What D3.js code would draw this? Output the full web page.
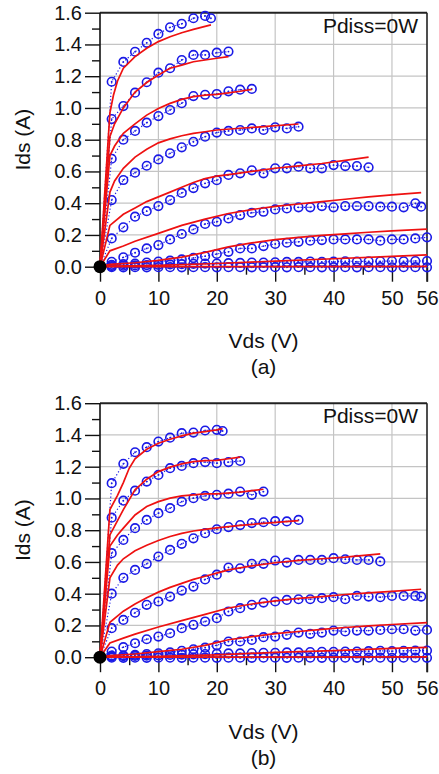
<!DOCTYPE html>
<html><head><meta charset="utf-8">
<script src="https://cdn.jsdelivr.net/npm/d3@7/dist/d3.min.js"></script>
<style>body{margin:0;background:#fff}svg{display:block}text{font-family:"Liberation Sans",Arial,Helvetica,sans-serif;fill:#111}</style>
</head><body>
<svg id="c" width="439" height="774"></svg>
<script>
// ---------- DATA ----------
const xTicks = [0,10,20,30,40,50,56];
const xMinor = [5,15,25,35,45];
const yTicks = [0,0.2,0.4,0.6,0.8,1.0,1.2,1.4,1.6];
const yMinor = [0.1,0.3,0.5,0.7,0.9,1.1,1.3,1.5];
const gridX = [10,20,30,40,50];
const gridY = [0.2,0.4,0.6,0.8,1.0,1.2,1.4];
const panelLabels = ["(a)","(b)"];
const annotation = "Pdiss=0W";

// panel (a) measured (blue circles)
const a_m1=[[0,0],[2,1.165],[4,1.29],[6,1.354],[8,1.41],[10,1.466],[12,1.508],[14,1.53],[16,1.565],[18,1.58],[19,1.565]];
const a_m2=[[0,0],[2,0.93],[4,1.012],[6,1.096],[8,1.162],[10,1.222],[12,1.25],[14,1.302],[16,1.334],[18,1.334],[20,1.348],[22,1.355]];
const a_m3=[[0,0],[2,0.68],[4,0.80],[6,0.855],[8,0.907],[10,0.949],[12,0.987],[14,1.03],[16,1.075],[18,1.083],[20,1.088],[22,1.105],[24,1.115],[26,1.12]];
const a_m4=[[0,0],[2,0.42],[4,0.546],[6,0.592],[8,0.636],[10,0.676],[12,0.714],[14,0.752],[16,0.787],[18,0.819],[20,0.845],[22,0.855],[24,0.861],[26,0.871],[28,0.861],[30,0.878],[32,0.871],[34,0.882]];
const a_m5=[[0,0],[2,0.178],[4,0.248],[6,0.315],[8,0.35],[10,0.382],[12,0.42],[14,0.465],[16,0.495],[18,0.525],[20,0.545],[22,0.578],[24,0.588],[26,0.607],[28,0.588],[30,0.62],[32,0.62],[34,0.63],[36,0.62],[38,0.62],[40,0.64],[42,0.634],[44,0.634],[46,0.626]];
const a_m6=[[0,0],[2,0.031],[4,0.059],[6,0.088],[8,0.115],[10,0.136],[12,0.172],[14,0.206],[16,0.235],[18,0.269],[20,0.283],[22,0.304],[24,0.325],[26,0.34],[28,0.346],[30,0.361],[32,0.367],[34,0.374],[36,0.374],[38,0.382],[40,0.374],[42,0.382],[44,0.382],[46,0.382],[48,0.378],[50,0.378],[52,0.374],[54,0.399],[55,0.378]];
const a_m7=[[0,0],[2,0.012],[4,0.016],[6,0.02],[8,0.026],[10,0.032],[12,0.038],[14,0.046],[16,0.055],[18,0.066],[20,0.08],[22,0.094],[24,0.115],[26,0.115],[28,0.13],[30,0.143],[32,0.151],[34,0.157],[36,0.164],[38,0.168],[40,0.172],[42,0.172],[44,0.172],[46,0.172],[48,0.164],[50,0.172],[52,0.172],[54,0.178],[56,0.185]];
const a_m8=[[0,0],[2,0.004],[4,0.006],[6,0.008],[8,0.01],[10,0.012],[12,0.014],[14,0.016],[16,0.018],[18,0.02],[20,0.02],[22,0.022],[24,0.024],[26,0.026],[28,0.026],[30,0.028],[32,0.03],[34,0.03],[36,0.032],[38,0.03],[40,0.032],[42,0.034],[44,0.032],[46,0.034],[48,0.034],[50,0.036],[52,0.034],[54,0.036],[56,0.036]];
const a_m9=[[0,0],[2,-0.003],[4,-0.004],[6,-0.003],[8,-0.004],[10,-0.003],[12,-0.003],[14,-0.004],[16,-0.003],[18,-0.003],[20,-0.004],[22,-0.003],[24,-0.003],[26,-0.004],[28,-0.003],[30,-0.003],[32,-0.004],[34,-0.003],[36,-0.003],[38,-0.004],[40,-0.003],[42,-0.003],[44,-0.004],[46,-0.003],[48,-0.003],[50,-0.004],[52,-0.003],[54,-0.003],[56,-0.004]];

// panel (a) model (red lines)
const a_s1=[[0,0],[1.7,0.97],[2.3,1.08],[3,1.17],[4,1.25],[6,1.323],[8,1.376],[10,1.418],[12,1.449],[14,1.474],[16,1.495],[19,1.523]];
const a_s2=[[0,0],[1.7,0.82],[2.5,0.90],[4,1.0],[6,1.10],[8,1.16],[10,1.207],[12,1.25],[14,1.27],[16,1.291],[18,1.302],[20,1.313],[22,1.323]];
const a_s3=[[0,0],[1.7,0.70],[2.5,0.76],[4,0.84],[6,0.90],[8,0.955],[10,0.997],[12,1.029],[14,1.054],[16,1.071],[18,1.081],[20,1.085],[22,1.095],[24,1.105],[26,1.117]];
const a_s4=[[0,0],[1.7,0.47],[2.5,0.54],[4,0.62],[6,0.69],[8,0.74],[10,0.78],[12,0.805],[14,0.825],[16,0.84],[18,0.85],[20,0.861],[24,0.872],[28,0.882],[34,0.899]];
const a_s5=[[0,0],[1.7,0.26],[4,0.33],[6,0.37],[8,0.41],[10,0.44],[12,0.47],[14,0.50],[16,0.53],[18,0.555],[20,0.57],[22,0.58],[26,0.60],[30,0.62],[34,0.635],[38,0.65],[42,0.67],[46,0.69]];
const a_s6=[[0,0],[1.7,0.10],[4,0.13],[6,0.16],[10,0.21],[14,0.26],[18,0.30],[22,0.335],[26,0.36],[30,0.38],[34,0.395],[38,0.41],[42,0.425],[46,0.44],[50,0.452],[55,0.466]];
const a_s7=[[0,0],[1.7,0.015],[6,0.025],[10,0.04],[14,0.06],[18,0.09],[22,0.125],[26,0.15],[30,0.17],[34,0.185],[38,0.197],[42,0.207],[46,0.217],[50,0.226],[56,0.237]];
const a_s8=[[0,0],[2,0.003],[10,0.008],[20,0.02],[30,0.035],[40,0.05],[50,0.065],[56,0.075]];
const a_s9=[[0,0],[56,0.002]];

// panel (b) measured
const b_m1=[[0,0],[2,1.096],[4,1.218],[6,1.291],[8,1.323],[10,1.358],[12,1.383],[14,1.411],[16,1.415],[18,1.428],[20,1.432],[21,1.425]];
const b_m2=[[0,0],[2,0.879],[4,0.986],[6,1.049],[8,1.106],[10,1.148],[12,1.191],[14,1.205],[16,1.222],[18,1.229],[20,1.222],[22,1.229],[24,1.236]];
const b_m3=[[0,0],[2,0.655],[4,0.739],[6,0.813],[8,0.865],[10,0.907],[12,0.939],[14,0.98],[16,1.002],[18,1.016],[20,1.023],[22,1.03],[24,1.043],[26,1.023],[28,1.043]];
const b_m4=[[0,0],[2,0.40],[4,0.50],[6,0.55],[8,0.588],[10,0.634],[12,0.676],[14,0.714],[16,0.749],[18,0.781],[20,0.806],[22,0.82],[24,0.832],[26,0.845],[28,0.85],[30,0.857],[32,0.855],[34,0.865]];
const b_m5=[[0,0],[2,0.183],[4,0.235],[6,0.28],[8,0.33],[10,0.351],[12,0.382],[14,0.42],[16,0.445],[18,0.49],[20,0.52],[22,0.565],[24,0.56],[26,0.588],[28,0.588],[30,0.609],[32,0.596],[34,0.613],[36,0.613],[38,0.613],[40,0.624],[42,0.617],[44,0.613],[46,0.613],[48,0.603]];
const b_m6=[[0,0],[2,0.036],[4,0.063],[6,0.088],[8,0.113],[10,0.13],[12,0.151],[14,0.183],[16,0.204],[18,0.225],[20,0.246],[22,0.288],[24,0.309],[26,0.33],[28,0.344],[30,0.351],[32,0.361],[34,0.365],[36,0.365],[38,0.372],[40,0.378],[42,0.365],[44,0.386],[46,0.382],[48,0.378],[50,0.386],[52,0.386],[54,0.386],[55,0.382]];
const b_m7=[[0,0],[2,0.01],[4,0.012],[6,0.015],[8,0.02],[10,0.025],[12,0.03],[14,0.04],[16,0.05],[18,0.06],[20,0.075],[22,0.099],[24,0.099],[26,0.109],[28,0.126],[30,0.13],[32,0.141],[34,0.155],[36,0.147],[38,0.155],[40,0.168],[42,0.162],[44,0.168],[46,0.168],[48,0.172],[50,0.176],[52,0.176],[54,0.168],[56,0.172]];
const b_m8=[[0,0],[2,0.004],[4,0.006],[6,0.008],[8,0.01],[10,0.012],[12,0.014],[14,0.016],[16,0.018],[18,0.02],[20,0.022],[22,0.024],[24,0.024],[26,0.026],[28,0.028],[30,0.028],[32,0.03],[34,0.03],[36,0.032],[38,0.034],[40,0.034],[42,0.036],[44,0.036],[46,0.038],[48,0.04],[50,0.038],[52,0.04],[54,0.042],[56,0.042]];
const b_m9=[[0,0],[2,-0.003],[4,-0.004],[6,-0.003],[8,-0.004],[10,-0.003],[12,-0.003],[14,-0.004],[16,-0.003],[18,-0.003],[20,-0.004],[22,-0.003],[24,-0.003],[26,-0.004],[28,-0.003],[30,-0.003],[32,-0.004],[34,-0.003],[36,-0.003],[38,-0.004],[40,-0.003],[42,-0.003],[44,-0.004],[46,-0.003],[48,-0.003],[50,-0.004],[52,-0.003],[54,-0.003],[56,-0.004]];

// panel (b) model
const b_s1=[[0,0],[1.7,0.93],[3,1.02],[4,1.10],[5,1.19],[6,1.25],[8,1.31],[10,1.348],[12,1.373],[14,1.394],[16,1.411],[18,1.421],[20,1.432],[21,1.44]];
const b_s2=[[0,0],[1.7,0.77],[3,0.86],[4,0.93],[6,1.054],[8,1.121],[10,1.169],[12,1.197],[14,1.218],[16,1.232],[18,1.238],[20,1.24],[22,1.25],[24,1.26]];
const b_s3=[[0,0],[1.7,0.70],[3,0.77],[4,0.813],[6,0.896],[8,0.949],[10,0.98],[12,1.002],[14,1.016],[16,1.023],[18,1.029],[20,1.029],[24,1.04],[28,1.058]];
const b_s4=[[0,0],[1.7,0.50],[3,0.58],[4,0.62],[6,0.67],[8,0.705],[10,0.735],[12,0.76],[14,0.78],[16,0.795],[18,0.805],[20,0.815],[24,0.83],[28,0.843],[34,0.86]];
const b_s5=[[0,0],[1.7,0.22],[4,0.29],[6,0.335],[8,0.375],[10,0.41],[12,0.44],[14,0.465],[16,0.49],[18,0.51],[20,0.53],[22,0.55],[26,0.575],[30,0.595],[34,0.61],[38,0.62],[42,0.63],[48,0.651]];
const b_s6=[[0,0],[1.7,0.09],[4,0.12],[6,0.145],[10,0.19],[14,0.23],[18,0.27],[22,0.31],[26,0.335],[30,0.355],[34,0.37],[38,0.382],[42,0.395],[46,0.405],[50,0.415],[55,0.428]];
const b_s7=[[0,0],[1.7,0.01],[6,0.02],[10,0.035],[14,0.05],[18,0.075],[22,0.11],[26,0.13],[30,0.148],[34,0.162],[38,0.175],[42,0.187],[46,0.197],[50,0.206],[56,0.218]];
const b_s8=[[0,0],[10,0.006],[20,0.015],[30,0.03],[40,0.042],[50,0.055],[56,0.062]];
const b_s9=[[0,0],[56,0.002]];

const panels = [
  {label: panelLabels[0], meas:[a_m1,a_m2,a_m3,a_m4,a_m5,a_m6,a_m7,a_m8,a_m9], model:[a_s1,a_s2,a_s3,a_s4,a_s5,a_s6,a_s7,a_s8,a_s9]},
  {label: panelLabels[1], meas:[b_m1,b_m2,b_m3,b_m4,b_m5,b_m6,b_m7,b_m8,b_m9], model:[b_s1,b_s2,b_s3,b_s4,b_s5,b_s6,b_s7,b_s8,b_s9]}
];

// ---------- DRAW ----------
const svg = d3.select("#c");
const x = d3.scaleLinear().domain([0,56]).range([100,427]);
const y = d3.scaleLinear().domain([0,1.6]).range([266.7,12.7]);
const BLUE="#1a1ae6", RED="#ee1111";
const line = d3.line().x(d=>x(d[0])).y(d=>y(d[1]));
const offsets=[0,390.5];

panels.forEach((p,i)=>{
  const g = svg.append("g").attr("transform",`translate(0,${offsets[i]})`);
  // grid
  g.append("g").selectAll("line").data(gridX).join("line")
    .attr("x1",d=>x(d)).attr("x2",d=>x(d)).attr("y1",y(1.6)).attr("y2",y(0))
    .attr("stroke","#c4c4c4").attr("stroke-width",1.2);
  g.append("g").selectAll("line").data(gridY).join("line")
    .attr("x1",x(0)).attr("x2",x(56)).attr("y1",d=>y(d)).attr("y2",d=>y(d))
    .attr("stroke","#c4c4c4").attr("stroke-width",1.2);
  // frame top/right
  g.append("line").attr("x1",x(0)).attr("x2",x(56)).attr("y1",y(1.6)).attr("y2",y(1.6)).attr("stroke","#222").attr("stroke-width",2);
  // y axis
  const ya = g.append("g").attr("transform",`translate(${x(0)},0)`)
    .call(d3.axisLeft(y).tickValues(yTicks).tickSize(15).tickPadding(3).tickFormat(d3.format(".1f")));
  ya.select(".domain").remove();
  ya.selectAll("line").attr("stroke","#111").attr("stroke-width",1.4);
  ya.selectAll("text").attr("font-size",20).attr("font-family","Liberation Sans, Arial, sans-serif").attr("fill","#111");
  const ym = g.append("g").attr("transform",`translate(${x(0)},0)`)
    .call(d3.axisLeft(y).tickValues(yMinor).tickSize(8).tickFormat(""));
  ym.select(".domain").remove();
  ym.selectAll("line").attr("stroke","#111").attr("stroke-width",1.4);
  // x axis at y=0
  const xa = g.append("g").attr("transform",`translate(0,${y(0)})`)
    .call(d3.axisBottom(x).tickValues(xTicks).tickSize(15).tickPadding(9).tickFormat(d3.format("d")));
  xa.select(".domain").attr("stroke","#111").attr("stroke-width",1.2).attr("d",`M${x(0)},0H${x(56)}`);
  xa.selectAll("line").attr("stroke","#111").attr("stroke-width",1.4);
  xa.selectAll("text").attr("font-size",20).attr("font-family","Liberation Sans, Arial, sans-serif").attr("fill","#111");
  const xm = g.append("g").attr("transform",`translate(0,${y(0)})`)
    .call(d3.axisBottom(x).tickValues(xMinor).tickSize(8).tickFormat(""));
  xm.select(".domain").remove();
  xm.selectAll("line").attr("stroke","#111").attr("stroke-width",1.4);
  // left axis & right frame lines
  g.append("line").attr("x1",x(0)).attr("x2",x(0)).attr("y1",y(1.6)).attr("y2",y(0)).attr("stroke","#111").attr("stroke-width",1.6);
  g.append("line").attr("x1",x(56)).attr("x2",x(56)).attr("y1",y(1.6)).attr("y2",y(0)+15).attr("stroke","#222").attr("stroke-width",1.6);

  // measured dotted lines
  g.append("g").selectAll("path").data(p.meas).join("path")
    .attr("d",line).attr("fill","none").attr("stroke",BLUE).attr("stroke-width",1.2).attr("stroke-dasharray","1.2,2.2");
  // circles
  p.meas.forEach(s=>{
    const pts = s.filter(d=>d[0]>0);
    g.append("g").selectAll("circle").data(pts).join("circle")
      .attr("cx",d=>x(d[0])).attr("cy",d=>y(d[1])).attr("r",4.3)
      .attr("fill","none").attr("stroke",BLUE).attr("stroke-width",1.6);
    g.append("g").selectAll("circle").data(pts).join("circle")
      .attr("cx",d=>x(d[0])).attr("cy",d=>y(d[1])).attr("r",0.9).attr("fill",BLUE);
  });
  // model lines
  g.append("g").selectAll("path").data(p.model).join("path")
    .attr("d",line).attr("fill","none").attr("stroke",RED).attr("stroke-width",1.7);
  // origin dot
  g.append("circle").attr("cx",x(0)).attr("cy",y(0)).attr("r",6.5).attr("fill","#000");

  // texts
  g.append("text").attr("x",418).attr("y",32.7).attr("text-anchor","end").attr("font-size",21).text(annotation);
  g.append("text").attr("transform",`translate(30,${(y(0)+y(1.6))/2}) rotate(-90)`).attr("text-anchor","middle").attr("font-size",21).text("Ids (A)");
  g.append("text").attr("x",(x(0)+x(56))/2).attr("y",348).attr("text-anchor","middle").attr("font-size",21).text("Vds (V)");
  g.append("text").attr("x",(x(0)+x(56))/2).attr("y",374).attr("text-anchor","middle").attr("font-size",21).text(p.label);
});
</script>
</body></html>
